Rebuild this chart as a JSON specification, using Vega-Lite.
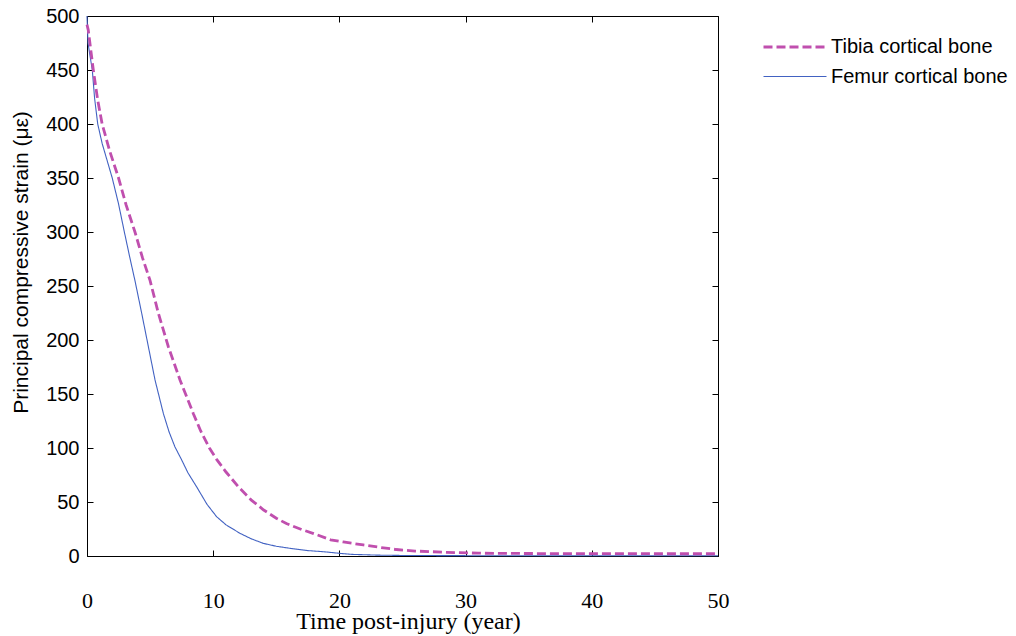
{
  "$schema": "https://vega.github.io/schema/vega-lite/v6.json",
  "width": 631,
  "height": 540,
  "autosize": "none",
  "padding": {"left": 87, "top": 16, "right": 298, "bottom": 80},
  "background": "white",
  "config": {
    "view": {"stroke": "black", "strokeWidth": 1},
    "axis": {"grid": false, "domainColor": "black", "tickColor": "black", "labelColor": "black", "titleColor": "black", "titleFontWeight": "normal", "tickWidth": 1, "domainWidth": 1}
  },
  "data": {"values": [
    {"series": "Femur cortical bone", "t": 0, "v": 500},
    {"series": "Femur cortical bone", "t": 0.08, "v": 475},
    {"series": "Femur cortical bone", "t": 0.2, "v": 466},
    {"series": "Femur cortical bone", "t": 0.42, "v": 450},
    {"series": "Femur cortical bone", "t": 0.6, "v": 424},
    {"series": "Femur cortical bone", "t": 0.85, "v": 400},
    {"series": "Femur cortical bone", "t": 1.2, "v": 382},
    {"series": "Femur cortical bone", "t": 1.6, "v": 366},
    {"series": "Femur cortical bone", "t": 2.0, "v": 350},
    {"series": "Femur cortical bone", "t": 2.5, "v": 326},
    {"series": "Femur cortical bone", "t": 2.96, "v": 300},
    {"series": "Femur cortical bone", "t": 3.4, "v": 276},
    {"series": "Femur cortical bone", "t": 3.8, "v": 255},
    {"series": "Femur cortical bone", "t": 4.33, "v": 225},
    {"series": "Femur cortical bone", "t": 4.86, "v": 194},
    {"series": "Femur cortical bone", "t": 5.39, "v": 163},
    {"series": "Femur cortical bone", "t": 6.05, "v": 132},
    {"series": "Femur cortical bone", "t": 6.5, "v": 115},
    {"series": "Femur cortical bone", "t": 6.97, "v": 101},
    {"series": "Femur cortical bone", "t": 7.5, "v": 89},
    {"series": "Femur cortical bone", "t": 8.0, "v": 77},
    {"series": "Femur cortical bone", "t": 8.69, "v": 64},
    {"series": "Femur cortical bone", "t": 9.5, "v": 48},
    {"series": "Femur cortical bone", "t": 10.27, "v": 36.4},
    {"series": "Femur cortical bone", "t": 11, "v": 29},
    {"series": "Femur cortical bone", "t": 12.12, "v": 21},
    {"series": "Femur cortical bone", "t": 13, "v": 16},
    {"series": "Femur cortical bone", "t": 13.97, "v": 11.7},
    {"series": "Femur cortical bone", "t": 15, "v": 9},
    {"series": "Femur cortical bone", "t": 16.1, "v": 7.1},
    {"series": "Femur cortical bone", "t": 17.5, "v": 5},
    {"series": "Femur cortical bone", "t": 18.7, "v": 4},
    {"series": "Femur cortical bone", "t": 20, "v": 2.5},
    {"series": "Femur cortical bone", "t": 21, "v": 1.5},
    {"series": "Femur cortical bone", "t": 23, "v": 0.8},
    {"series": "Femur cortical bone", "t": 25, "v": 0.5},
    {"series": "Femur cortical bone", "t": 30, "v": 0.3},
    {"series": "Femur cortical bone", "t": 40, "v": 0.2},
    {"series": "Femur cortical bone", "t": 50, "v": 0.2},
    {"series": "Tibia cortical bone", "t": 0, "v": 492},
    {"series": "Tibia cortical bone", "t": 0.1, "v": 487},
    {"series": "Tibia cortical bone", "t": 0.5, "v": 450},
    {"series": "Tibia cortical bone", "t": 0.85, "v": 422},
    {"series": "Tibia cortical bone", "t": 1.2, "v": 400},
    {"series": "Tibia cortical bone", "t": 1.8, "v": 375},
    {"series": "Tibia cortical bone", "t": 2.5, "v": 350},
    {"series": "Tibia cortical bone", "t": 3.1, "v": 325},
    {"series": "Tibia cortical bone", "t": 3.8, "v": 300},
    {"series": "Tibia cortical bone", "t": 4.4, "v": 276},
    {"series": "Tibia cortical bone", "t": 5.0, "v": 255},
    {"series": "Tibia cortical bone", "t": 5.65, "v": 225},
    {"series": "Tibia cortical bone", "t": 6.44, "v": 194},
    {"series": "Tibia cortical bone", "t": 7.37, "v": 163},
    {"series": "Tibia cortical bone", "t": 8.42, "v": 132},
    {"series": "Tibia cortical bone", "t": 9.0, "v": 116},
    {"series": "Tibia cortical bone", "t": 9.7, "v": 100},
    {"series": "Tibia cortical bone", "t": 10.3, "v": 89},
    {"series": "Tibia cortical bone", "t": 11, "v": 78},
    {"series": "Tibia cortical bone", "t": 12, "v": 64},
    {"series": "Tibia cortical bone", "t": 13, "v": 52},
    {"series": "Tibia cortical bone", "t": 14, "v": 42.6},
    {"series": "Tibia cortical bone", "t": 15, "v": 35},
    {"series": "Tibia cortical bone", "t": 15.8, "v": 30},
    {"series": "Tibia cortical bone", "t": 17, "v": 24.5},
    {"series": "Tibia cortical bone", "t": 17.9, "v": 21},
    {"series": "Tibia cortical bone", "t": 19.3, "v": 15},
    {"series": "Tibia cortical bone", "t": 20.3, "v": 13},
    {"series": "Tibia cortical bone", "t": 21.9, "v": 10.2},
    {"series": "Tibia cortical bone", "t": 23.5, "v": 7.5},
    {"series": "Tibia cortical bone", "t": 24.5, "v": 6},
    {"series": "Tibia cortical bone", "t": 26, "v": 4.6},
    {"series": "Tibia cortical bone", "t": 28.5, "v": 3.4},
    {"series": "Tibia cortical bone", "t": 31, "v": 2.6},
    {"series": "Tibia cortical bone", "t": 35, "v": 2.3},
    {"series": "Tibia cortical bone", "t": 40, "v": 2.2},
    {"series": "Tibia cortical bone", "t": 45, "v": 2.1},
    {"series": "Tibia cortical bone", "t": 50, "v": 2.1}
  ]},
  "layer": [
    {
      "mark": {"type": "line", "strokeCap": "butt"},
      "encoding": {
        "x": {"field": "t", "type": "quantitative", "scale": {"domain": [0, 50], "nice": false},
          "axis": {"orient": "bottom", "values": [0, 10, 20, 30, 40, 50], "tickSize": -6, "labelPadding": 57, "labelBaseline": "alphabetic", "labelFlush": false,
            "labelFont": "Liberation Serif", "labelFontSize": 22, "domain": false,
            "title": "Time post-injury (year)", "titleFont": "Liberation Serif", "titleFontSize": 24, "titleBaseline": "alphabetic", "titleX": 321, "titleY": 72, "titleAlign": "center"}},
        "y": {"field": "v", "type": "quantitative", "scale": {"domain": [0, 500], "nice": false},
          "axis": {"orient": "left", "values": [0, 50, 100, 150, 200, 250, 300, 350, 400, 450, 500], "tickSize": -6, "labelPadding": 14, "labelFlush": false,
            "labelFont": "Liberation Sans", "labelFontSize": 20, "domain": false,
            "title": "Principal compressive strain (με)", "titleFont": "Liberation Sans", "titleFontSize": 21, "titleAngle": -90, "titleAlign": "center", "titleBaseline": "middle", "titleX": -66, "titleY": 246}},
        "color": {"field": "series", "type": "nominal", "scale": {"domain": ["Tibia cortical bone", "Femur cortical bone"], "range": ["#c04fae", "#4262c2"]},
          "legend": {"title": null, "orient": "none", "legendX": 696, "legendY": 19, "symbolType": "M-3,0H3", "symbolSize": 441, "labelOffset": 24, "labelLimit": 400, "labelFont": "Liberation Sans", "labelFontSize": 20, "labelColor": "black", "rowPadding": 8, "padding": 0}},
        "strokeDash": {"field": "series", "type": "nominal", "scale": {"domain": ["Tibia cortical bone", "Femur cortical bone"], "range": [[9, 4], [1, 0]]},
          "legend": {"title": null, "orient": "none", "legendX": 696, "legendY": 19, "symbolType": "M-3,0H3", "symbolSize": 441, "labelOffset": 24, "labelLimit": 400, "labelFont": "Liberation Sans", "labelFontSize": 20, "labelColor": "black", "rowPadding": 8, "padding": 0}},
        "strokeWidth": {"field": "series", "type": "nominal", "scale": {"domain": ["Tibia cortical bone", "Femur cortical bone"], "range": [2.8, 1.1]},
          "legend": {"title": null, "orient": "none", "legendX": 696, "legendY": 19, "symbolType": "M-3,0H3", "symbolSize": 441, "labelOffset": 24, "labelLimit": 400, "labelFont": "Liberation Sans", "labelFontSize": 20, "labelColor": "black", "rowPadding": 8, "padding": 0}}
      }
    },
    {
      "mark": {"type": "line", "opacity": 0},
      "encoding": {
        "x": {"field": "t", "type": "quantitative", "scale": {"domain": [0, 50], "nice": false},
          "axis": {"orient": "top", "values": [0, 10, 20, 30, 40, 50], "tickSize": -6, "labels": false, "domain": false, "title": null}},
        "y": {"field": "v", "type": "quantitative", "scale": {"domain": [0, 500], "nice": false},
          "axis": {"orient": "right", "values": [0, 50, 100, 150, 200, 250, 300, 350, 400, 450, 500], "tickSize": -6, "labels": false, "domain": false, "title": null}},
        "detail": {"field": "series"}
      }
    }
  ],
  "resolve": {"axis": {"x": "independent", "y": "independent"}}
}
